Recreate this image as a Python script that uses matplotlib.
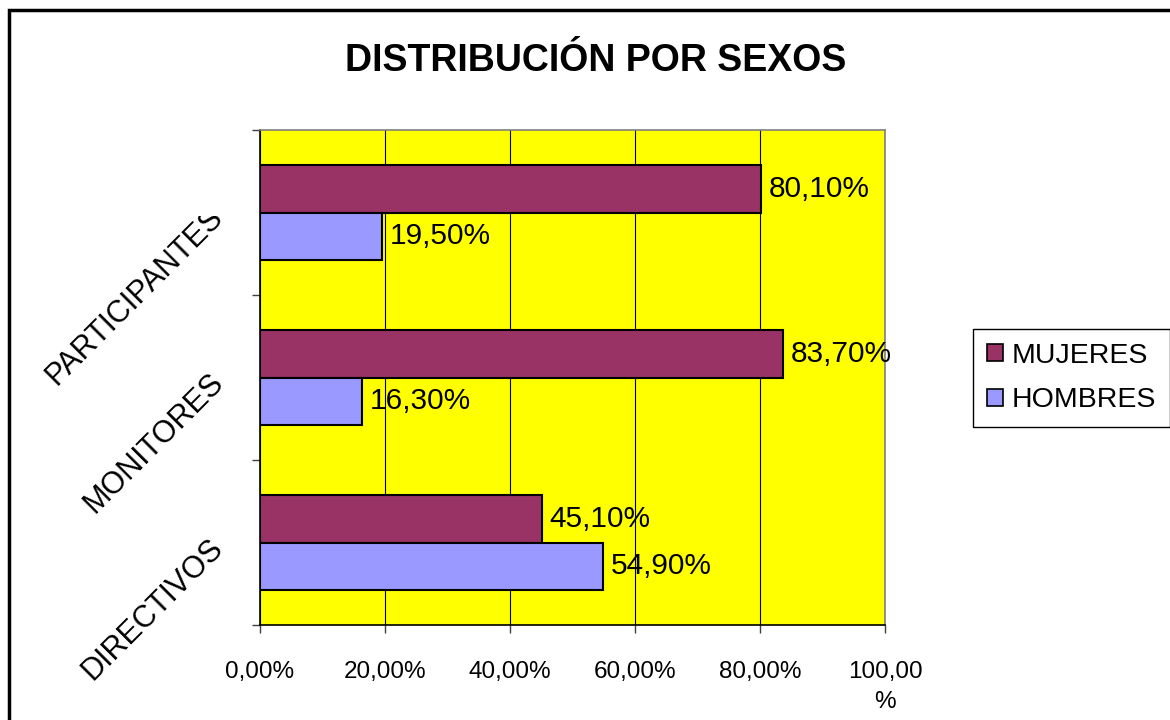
import matplotlib
matplotlib.use("Agg")
import matplotlib.pyplot as plt
from matplotlib.patches import Patch, Rectangle
from matplotlib.transforms import Bbox, TransformedBbox, ScaledTranslation
import numpy as np

# data (bottom -> top, as drawn)
categories = ["DIRECTIVOS", "MONITORES", "PARTICIPANTES"]
mujeres = [45.1, 83.7, 80.1]
hombres = [54.9, 16.3, 19.5]
x_ticks = [0, 20, 40, 60, 80, 100]
x_tick_labels = ["0,00%", "20,00%", "40,00%", "60,00%", "80,00%", "100,00\n%"]

COL_MUJ = "#993366"
COL_HOM = "#9999FF"
FONT = "Liberation Sans"


def pct(v):
    return f"{v:.2f}%".replace(".", ",")


plt.rcParams["font.family"] = [FONT, "DejaVu Sans"]

fig = plt.figure(figsize=(11.7, 7.2), dpi=100)
ax = fig.add_axes([260 / 1170, 1 - 625 / 720, 625 / 1170, 495 / 720])
ax.set_facecolor("#FFFF00")

y = np.arange(len(categories))
h = 0.285
bars_m = ax.barh(y + h / 2, mujeres, height=h, color=COL_MUJ, edgecolor="black", linewidth=1.5, zorder=3)
bars_h = ax.barh(y - h / 2, hombres, height=h, color=COL_HOM, edgecolor="black", linewidth=1.5, zorder=3)

for bars, vals in ((bars_m, mujeres), (bars_h, hombres)):
    for b, v in zip(bars, vals):
        ax.annotate(pct(v), (v, b.get_y() + b.get_height() / 2), xytext=(8, 0),
                    textcoords="offset pixels", ha="left", va="center",
                    fontsize=21.5, zorder=5, annotation_clip=False)

ax.set_xlim(0, 100)
ax.set_ylim(-0.5, len(categories) - 0.5)
ax.set_xticks(x_ticks)
ax.set_xticklabels(x_tick_labels, fontsize=17.5, multialignment="center", linespacing=1.45)
ax.set_yticks(np.arange(len(categories) + 1) - 0.5)
ax.set_yticklabels([])
ax.tick_params(axis="x", length=6, width=1, color="#404040", pad=20)
ax.tick_params(axis="y", length=6, width=1, color="#404040")

ax.grid(axis="x", color="black", linewidth=0.8, zorder=1)
ax.set_axisbelow(True)
for side in ("top", "right"):
    ax.spines[side].set_color("#808080")
    ax.spines[side].set_linewidth(1.2)
for side in ("left", "bottom"):
    ax.spines[side].set_color("black")
    ax.spines[side].set_linewidth(1.2)

# category labels, rotated, clipped like the original
clip = TransformedBbox(Bbox([[0, 0], [1, 1 - 216 / 720]]), fig.transFigure)
shift = ScaledTranslation(0, 10 / 100, fig.dpi_scale_trans)
for yi, name in zip(y, categories):
    t = ax.text(-0.083, yi, name, transform=ax.get_yaxis_transform() + shift,
                rotation=45, rotation_mode="anchor", ha="right", va="top",
                fontsize=22)
    t.set_clip_box(clip)
    t.set_clip_on(True)

fig.text(0.509, 0.915, "DISTRIBUCIÓN POR SEXOS", ha="center", va="center",
         fontsize=27, fontweight="bold")

handles = [Patch(facecolor=COL_MUJ, edgecolor="black", linewidth=1.2),
           Patch(facecolor=COL_HOM, edgecolor="black", linewidth=1.2)]
leg = fig.legend(handles, ["MUJERES", "HOMBRES"], loc="center left",
                 bbox_to_anchor=(973 / 1170, 1 - 378 / 720), fontsize=20.5,
                 frameon=True, fancybox=False, shadow=False, framealpha=1,
                 edgecolor="black", handlelength=0.55, handleheight=0.55,
                 handletextpad=0.3, labelspacing=0.65, borderpad=0.5,
                 borderaxespad=0)
leg.get_frame().set_linewidth(1.0)

# outer chart border (runs off the right and bottom edges)
fig.patches.append(Rectangle((9 / 1170, -0.2), 1.2, 1.2 - 10 / 720,
                             transform=fig.transFigure, fill=False,
                             edgecolor="black", linewidth=2.5, clip_on=False))

fig.savefig("out.png", dpi=100)
